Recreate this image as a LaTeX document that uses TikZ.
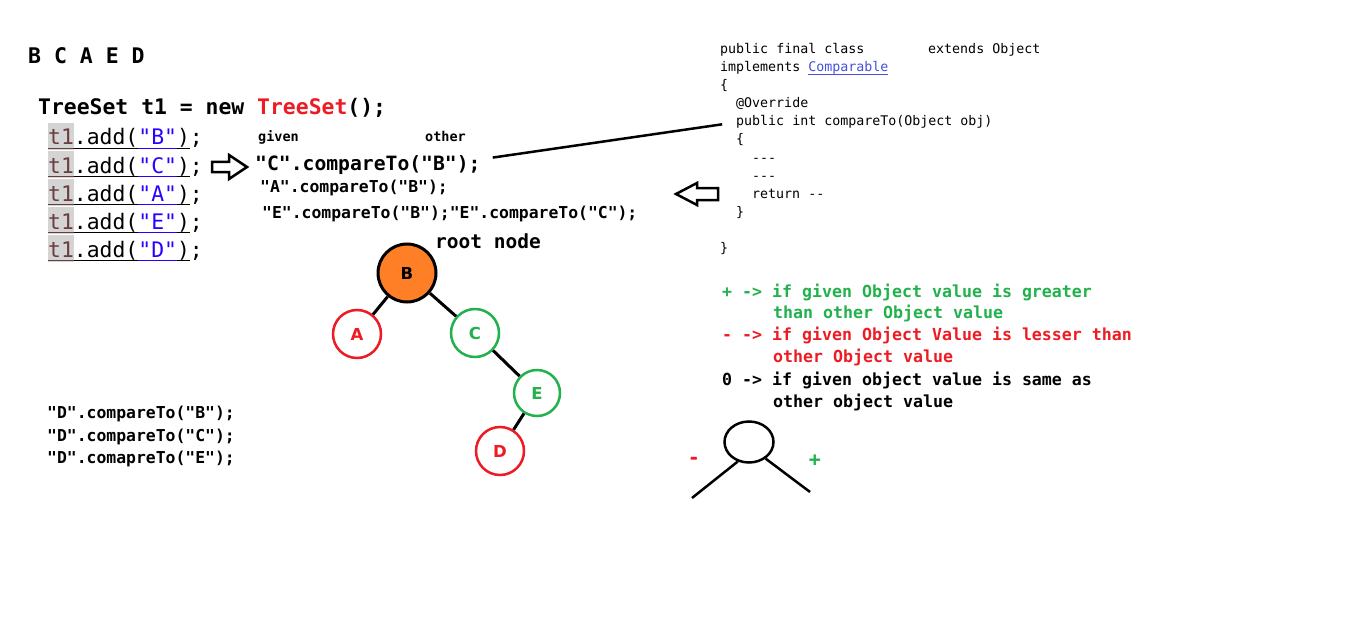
\documentclass[tikz,border=0pt]{standalone}
\usepackage{fontspec}
\usepackage{xcolor}
\usepackage{tikz}
\usetikzlibrary{shapes.geometric}
\newfontfamily\cmono{DejaVu Sans Mono}
\newfontfamily\csans{DejaVu Sans}
\newcommand{\fsz}[1]{\fontsize{#1}{#1}\selectfont}
\definecolor{ordorange}{HTML}{FF7F27}
\definecolor{ordred}{HTML}{ED1C24}
\definecolor{ordgreen}{HTML}{22B14C}
\definecolor{strblue}{HTML}{2A00FF}
\definecolor{varbrown}{HTML}{6A3E3E}
\definecolor{hlgray}{HTML}{D4D4D4}
\definecolor{linkblue}{HTML}{4650DC}

\begin{document}
\begin{tikzpicture}[x=1pt,y=-1pt,
	code/.style={inner sep=0pt,anchor=base west},
	treenode/.style={circle,line width=2.5pt,minimum size=48pt,inner sep=0pt,font=\csans\bfseries\fsz{16.5}},
	edge/.style={line width=3pt},
	hollow/.style={line width=2.5pt,line join=miter},
	uline/.style={line width=1.8pt}]
	
	\path [fill=white] (0,0) rectangle (1360,623);
	
	\node [code,font=\cmono\bfseries\fsz{21.5}] (order) at (28,64) {B C A E D};
	\node [code,font=\cmono\bfseries\fsz{21.4}] (decl) at (38,115) {TreeSet t1 = new \textcolor{ordred}{TreeSet}();};
	
	\foreach \c [count=\i] in {B,C,A,E,D} {
		\pgfmathsetmacro\yy{145+28*(\i-1)}
		\fill [hlgray] (48,\yy-22) rectangle (74,\yy+5);
		\node [code,font=\cmono\fsz{21.4}] (add\i) at (48,\yy) {\textcolor{varbrown}{t1}.add(\textcolor{strblue}{"\c"});};
		\draw [uline,varbrown] (48,\yy+3.5) -- (73.8,\yy+3.5);
		\draw [uline] (73.8,\yy+3.5) -- (138.2,\yy+3.5);
		\draw [uline,strblue] (138.2,\yy+3.5) -- (176.8,\yy+3.5);
		\draw [uline] (176.8,\yy+3.5) -- (189.7,\yy+3.5);
	}
	
	\node [code,font=\cmono\bfseries\fsz{13.5}] (given) at (258,142) {given};
	\node [code,font=\cmono\bfseries\fsz{13.5}] (other) at (425,142) {other};
	\node [code,font=\cmono\bfseries\fsz{19.7}] (cmpC) at (255,170) {"C".compareTo("B");};
	\node [code,font=\cmono\bfseries\fsz{16.4}] (cmpA) at (260,193) {"A".compareTo("B");};
	\node [code,font=\cmono\bfseries\fsz{16.4}] (cmpE) at (262,218) {"E".compareTo("B");"E".compareTo("C");};
	
	% hollow arrows
	\draw [hollow] (212,162) -- (229,162) -- (229,155) -- (247,167) -- (229,179) -- (229,172) -- (212,172) -- cycle;
	\draw [hollow] (676,194) -- (697,183) -- (697,188) -- (718,188) -- (718,200) -- (697,200) -- (697,205) -- cycle;
	
	\node [code,font=\cmono\fsz{13.3}] (j1) at (720,54) {public final class};
	\node [code,font=\cmono\fsz{13.3}] (j1b) at (928,54) {extends Object};
	\node [code,font=\cmono\fsz{13.3}] (j2) at (720,72) {implements \textcolor{linkblue}{Comparable}};
	\draw [linkblue,line width=1pt] (808,75) -- (888,75);
	\node [code,font=\cmono\fsz{13.3}] (j3) at (720,90) {\{};
	\node [code,font=\cmono\fsz{13.3}] (j4) at (736,108) {@Override};
	\node [code,font=\cmono\fsz{13.3}] (jmeth) at (736,126) {public int compareTo(Object obj)};
	\node [code,font=\cmono\fsz{13.3}] (j6) at (736,144) {\{};
	\node [code,font=\cmono\fsz{13.3}] (j7) at (752,162) {-{}-{}-};
	\node [code,font=\cmono\fsz{13.3}] (j8) at (752,180) {-{}-{}-};
	\node [code,font=\cmono\fsz{13.3}] (j9) at (752,198) {return -{}-};
	\node [code,font=\cmono\fsz{13.3}] (j10) at (736,216) {\}};
	\node [code,font=\cmono\fsz{13.3}] (j11) at (720,252) {\}};
	
	\draw [line width=2.5pt,shorten >=14pt] ([shift={(12,-7)}]cmpC.east) -- (jmeth.west);
	
	% tree
	\node [code,font=\cmono\bfseries\fsz{19.5}] (rootlbl) at (435,248) {root node};
	\node [treenode,fill=ordorange,draw=black,line width=3pt,minimum size=58pt] (B) at (407,273) {B};
	\node [treenode,draw=ordred,text=ordred] (A) at (357,334) {A};
	\node [treenode,draw=ordgreen,text=ordgreen] (C) at (475,333) {C};
	\node [treenode,draw=ordgreen,text=ordgreen,minimum size=46pt] (E) at (537,393) {E};
	\node [treenode,draw=ordred,text=ordred] (D) at (500,451) {D};
	\draw [edge] (B) -- (A);
	\draw [edge] (B) -- (C);
	\draw [edge] (C) -- (E);
	\draw [edge] (E) -- (D);
	
	\node [code,font=\cmono\bfseries\fsz{16.4}] (dB) at (47,418) {"D".compareTo("B");};
	\node [code,font=\cmono\bfseries\fsz{16.4}] (dC) at (47,441) {"D".compareTo("C");};
	\node [code,font=\cmono\bfseries\fsz{16.4}] (dE) at (47,463) {"D".comapreTo("E");};
	
	% legend
	\node [code,font=\cmono\bfseries\fsz{16.6},text=ordgreen] (gt1) at (722,297) {+ -> if given Object value is greater};
	\node [code,font=\cmono\bfseries\fsz{16.6},text=ordgreen] (gt2) at (773,318) {than other Object value};
	\node [code,font=\cmono\bfseries\fsz{16.6},text=ordred] (lt1) at (722,340) {- -> if given Object Value is lesser than};
	\node [code,font=\cmono\bfseries\fsz{16.6},text=ordred] (lt2) at (773,362) {other Object value};
	\node [code,font=\cmono\bfseries\fsz{16.6}] (eq1) at (722,385) {0 -> if given object value is same as};
	\node [code,font=\cmono\bfseries\fsz{16.6}] (eq2) at (773,407) {other object value};
	
	\node [ellipse,draw,line width=2.5pt,minimum width=49pt,minimum height=41pt,inner sep=0pt] (blank) at (749,442) {};
	\coordinate (lowL) at (692,498);
	\coordinate (lowR) at (810,492);
	\draw [line width=2.5pt] (blank.-120) -- (lowL);
	\draw [line width=2.5pt] (blank.-45) -- (lowR);
	\node [font=\cmono\bfseries\fsz{20},text=ordred] (minus) at (694,461) {-};
	\node [font=\cmono\bfseries\fsz{20},text=ordgreen] (plus) at (815,461) {+};
	
\end{tikzpicture}
\end{document}
